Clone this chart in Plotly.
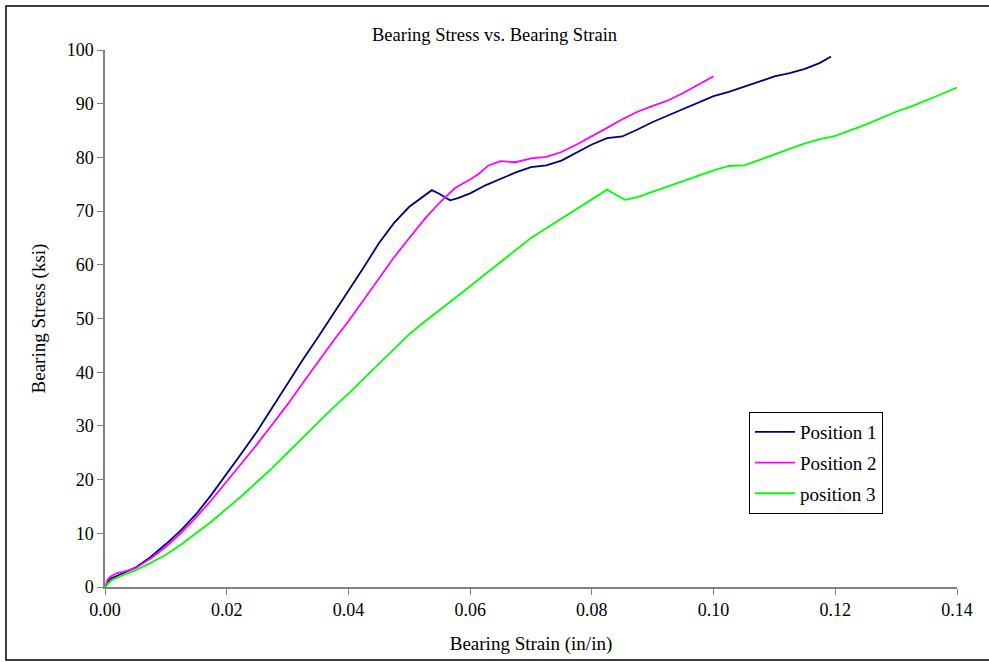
import plotly.graph_objects as go

# Position 1
x1 = [0.0, 0.0005, 0.001, 0.002, 0.003, 0.005, 0.0075, 0.01, 0.0125, 0.015, 0.0175, 0.02,
      0.0225, 0.025, 0.0275, 0.03, 0.0325, 0.035, 0.0375, 0.04, 0.0425, 0.045, 0.0475,
      0.05, 0.052, 0.0537, 0.055, 0.0567, 0.058, 0.06, 0.0625, 0.065, 0.0675, 0.07,
      0.0725, 0.075, 0.0775, 0.08, 0.0825, 0.085, 0.0875, 0.09, 0.0925, 0.095, 0.0975,
      0.1, 0.1025, 0.105, 0.1075, 0.11, 0.1125, 0.115, 0.1175, 0.1193]
y1 = [0.0, 1.0, 1.6, 2.1, 2.6, 3.6, 5.6, 8.0, 10.6, 13.6, 17.2, 21.0,
      25.0, 29.0, 33.5, 38.0, 42.3, 46.5, 50.8, 55.0, 59.5, 64.0, 67.8,
      70.8, 72.5, 73.9, 73.2, 72.0, 72.4, 73.3, 74.8, 76.0, 77.2, 78.2,
      78.5, 79.4, 80.9, 82.4, 83.6, 83.9, 85.2, 86.6, 87.8, 89.0, 90.3,
      91.4, 92.2, 93.1, 94.1, 95.1, 95.7, 96.5, 97.6, 98.8]

# Position 2
x2 = [0.0, 0.0005, 0.001, 0.002, 0.003, 0.005, 0.0075, 0.01, 0.0125, 0.015, 0.0175, 0.02,
      0.0225, 0.025, 0.0275, 0.03, 0.0325, 0.035, 0.0375, 0.04, 0.0425, 0.045, 0.0475,
      0.05, 0.0525, 0.055, 0.0575, 0.06, 0.0615, 0.063, 0.065, 0.0675, 0.07, 0.0725,
      0.075, 0.0775, 0.08, 0.0825, 0.085, 0.0875, 0.09, 0.0925, 0.095, 0.0975, 0.1]
y2 = [0.0, 1.5, 2.0, 2.6, 2.8, 3.5, 5.3, 7.5, 10.1, 13.0, 16.2, 19.6,
      23.0, 26.6, 30.3, 34.0, 38.0, 42.0, 45.8, 49.5, 53.5, 57.5, 61.4,
      65.0, 68.5, 71.6, 74.3, 75.9, 77.0, 78.5, 79.3, 79.1, 79.8, 80.1,
      81.0, 82.4, 83.9, 85.5, 87.1, 88.5, 89.6, 90.6, 92.0, 93.5, 95.1]

# position 3
x3 = [0.0, 0.0005, 0.001, 0.0025, 0.005, 0.0075, 0.01, 0.0125, 0.015, 0.0175, 0.02,
      0.0225, 0.025, 0.0275, 0.03, 0.0325, 0.035, 0.0375, 0.04, 0.0425, 0.045, 0.0475,
      0.05, 0.0525, 0.055, 0.0575, 0.06, 0.0625, 0.065, 0.0675, 0.07, 0.0725, 0.075,
      0.0775, 0.08, 0.0825, 0.084, 0.0855, 0.0875, 0.09, 0.0925, 0.095, 0.0975, 0.1,
      0.1025, 0.105, 0.1075, 0.11, 0.1125, 0.115, 0.1175, 0.12, 0.1225, 0.125, 0.1275,
      0.13, 0.1325, 0.135, 0.1375, 0.14]
y3 = [0.0, 0.6, 1.2, 2.0, 3.1, 4.5, 6.0, 7.9, 10.0, 12.2, 14.6,
      17.0, 19.6, 22.2, 25.0, 27.8, 30.6, 33.4, 36.0, 38.8, 41.6, 44.4,
      47.1, 49.4, 51.6, 53.7, 56.0, 58.3, 60.5, 62.8, 65.0, 66.8, 68.6,
      70.3, 72.1, 74.0, 73.0, 72.1, 72.6, 73.6, 74.6, 75.6, 76.6, 77.6,
      78.4, 78.5, 79.5, 80.6, 81.6, 82.6, 83.4, 84.0, 85.0, 86.1, 87.3,
      88.5, 89.5, 90.6, 91.8, 93.0]

series = [("Position 1", x1, y1, "#000080"),
          ("Position 2", x2, y2, "#FF00FF"),
          ("position 3", x3, y3, "#00FF00")]

x_ticks = [0.0, 0.02, 0.04, 0.06, 0.08, 0.10, 0.12, 0.14]
x_tick_labels = ["0.00", "0.02", "0.04", "0.06", "0.08", "0.10", "0.12", "0.14"]
y_ticks = [0, 10, 20, 30, 40, 50, 60, 70, 80, 90, 100]

FF = "Liberation Serif"

fig = go.Figure()
for i, (name, xs, ys, color) in enumerate(series):
    fig.add_trace(go.Scatter(x=xs, y=ys, mode="lines", name=name, legendgroup=f"g{i}",
                             line=dict(color=color, width=1.8)))

fig.update_layout(
    width=989, height=662,
    margin=dict(l=105, r=32, t=50, b=75),
    paper_bgcolor="white", plot_bgcolor="white",
    font=dict(family=FF, color="black", size=18),
    title=dict(text="Bearing Stress vs. Bearing Strain", x=0.5, xanchor="center",
               y=1 - 35 / 662, yanchor="middle", font=dict(family=FF, size=18.5)),
    showlegend=True,
    legend=dict(x=(749 - 105) / 852, y=(587 - 412) / 537, xanchor="left", yanchor="top",
                bordercolor="black", borderwidth=1, bgcolor="white",
                font=dict(family=FF, size=19), traceorder="grouped", tracegroupgap=3,
                itemwidth=40),
    xaxis=dict(range=[0, 0.14], tickvals=x_ticks, ticktext=x_tick_labels,
               showgrid=False, zeroline=False, showline=True, linecolor="#808080",
               linewidth=1.5, ticks="outside", tickcolor="#808080", ticklen=6,
               title=dict(text="Bearing Strain (in/in)", font=dict(family=FF, size=19), standoff=17),
               tickfont=dict(family=FF, size=18)),
    yaxis=dict(range=[0, 100], tickvals=y_ticks,
               showgrid=False, zeroline=False, showline=True, linecolor="#808080",
               linewidth=1.5, ticks="outside", tickcolor="#808080", ticklen=6,
               title=dict(text="Bearing Stress (ksi)", font=dict(family=FF, size=19), standoff=16),
               tickfont=dict(family=FF, size=18)),
    shapes=[dict(type="rect", xref="paper", yref="paper",
                 x0=-99 / 852, x1=1 + 40 / 852, y0=-73 / 537, y1=1 + 44 / 537,
                 line=dict(color="black", width=1.5), fillcolor="rgba(0,0,0,0)")],
)

fig.write_html("out.html")
